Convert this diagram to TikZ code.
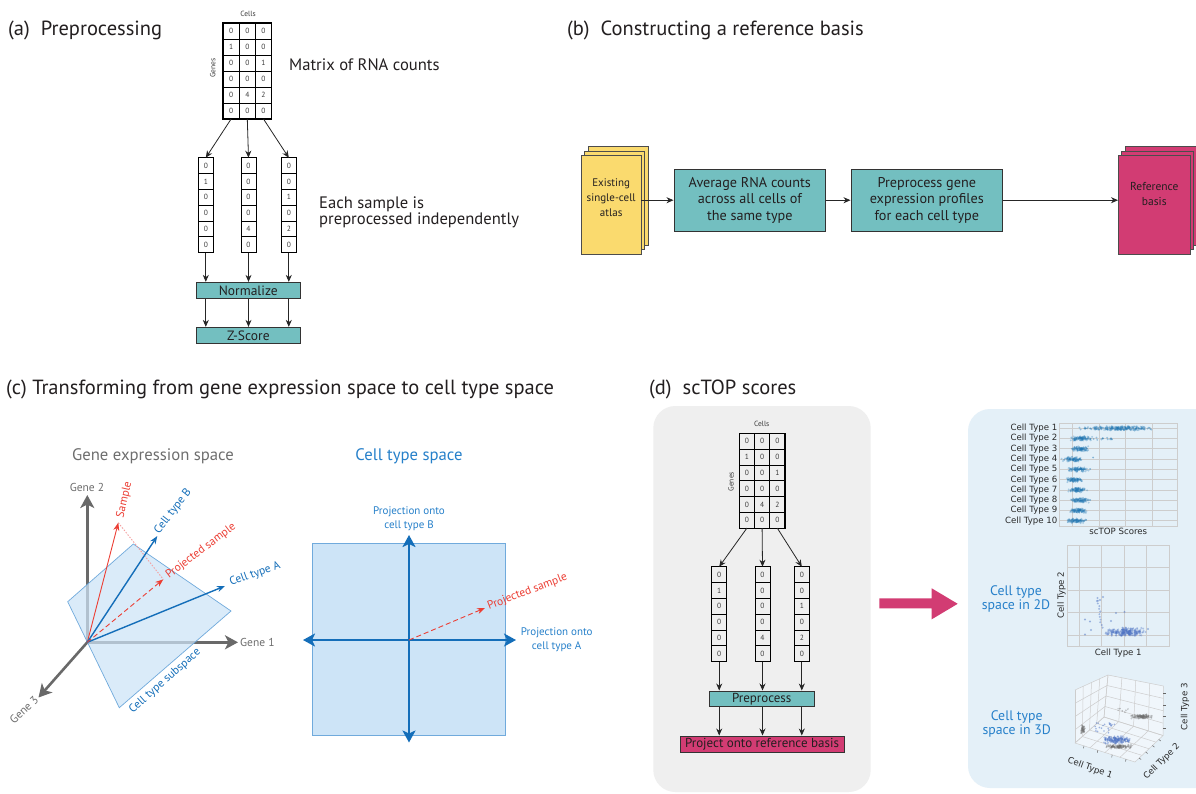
\documentclass[tikz,border=0pt]{standalone}
\usepackage{fontspec}
\setmainfont{PT Sans}
\newfontfamily\plotfont{DejaVu Sans}
\usetikzlibrary{arrows.meta,calc}
\definecolor{tealc}{RGB}{115,191,192}
\definecolor{pinkc}{RGB}{210,60,115}
\definecolor{yelc}{RGB}{250,218,110}
\definecolor{redc}{RGB}{236,62,52}
\definecolor{redl}{RGB}{244,160,160}
\definecolor{bluev}{RGB}{20,110,185}
\definecolor{bluet}{RGB}{38,128,202}
\definecolor{planef}{RGB}{205,228,247}
\definecolor{planed}{RGB}{112,170,220}
\definecolor{axgray}{RGB}{105,105,105}
\definecolor{labgray}{RGB}{110,110,110}
\definecolor{panelgray}{RGB}{239,239,239}
\definecolor{panelblue}{RGB}{228,240,248}
\definecolor{dotblue}{RGB}{31,119,180}
\definecolor{dotblue2}{RGB}{76,114,196}
\definecolor{dotgray}{RGB}{110,110,110}
\definecolor{gridc}{RGB}{205,205,205}
\definecolor{txt}{RGB}{35,31,32}
\definecolor{numc}{RGB}{60,60,60}
\definecolor{plottxt}{RGB}{40,40,40}

\tikzset{
  cellnum/.style={inner sep=0pt, font=\fontsize{7.5}{8}\selectfont, text=numc},
  cellline/.style={draw=black, line width=0.8pt},
  tealbox/.style={draw=black!80, line width=0.9pt, fill=tealc, inner sep=0pt, text=txt},
  arr/.style={-{Stealth[length=7pt,width=6pt]}, line width=0.8pt, draw=black!85},
  sheet/.style={draw=black!70, line width=0.6pt},
  titlelab/.style={font=\fontsize{20.5}{23}\selectfont, inner sep=0pt, anchor=west, text=txt},
  bigtext/.style={font=\fontsize{16.6}{16.6}\selectfont, inner sep=0pt, text=txt},
  smalllab/.style={font=\fontsize{7.5}{8}\selectfont, inner sep=0pt, text=numc},
  axisarr/.style={draw=axgray, line width=2.6pt, -{Stealth[length=13pt,width=14pt,inset=3.5pt]}},
  baxis/.style={draw=bluev, line width=2.2pt, {Stealth[length=12pt,width=13pt,inset=3pt]}-{Stealth[length=12pt,width=13pt,inset=3pt]}},
  vecarr/.style={-{Stealth[length=8pt,width=6pt]}},
  veclab/.style={font=\fontsize{11.5}{12}\selectfont, inner sep=0pt},
  plotlab/.style={font=\plotfont\fontsize{8.6}{9}\selectfont, inner sep=0pt, text=plottxt},
  gridl/.style={draw=gridc, line width=0.7pt}
}

% name, x0, y0, cell width, cell height, rows
\newcommand{\mygrid}[6]{%
  \foreach \row [count=\ri] in {#6} {%
    \foreach \v [count=\ci] in \row {%
      \draw[cellline] ({#2+(\ci-1)*#4},{#3+(\ri-1)*#5}) rectangle ++(#4,#5);
      \node[cellnum] (#1-\ri-\ci) at ({#2+(\ci-0.5)*#4},{#3+(\ri-0.5)*#5}) {\v};
      \coordinate (#1-t-\ci) at ({#2+(\ci-0.5)*#4},#3);
      \coordinate (#1-b-\ci) at ({#2+(\ci-0.5)*#4},{#3+6*#5});
    }%
  }%
}
\newcommand{\cloud}[8]{%
  \foreach \i in {1,...,#1}{%
    \pgfmathsetmacro{\px}{#2+#3*(rand+rand)/2}%
    \pgfmathsetmacro{\py}{#4+#5*(rand+rand)/2}%
    \fill[#6, opacity=#7] (\px,\py) circle (#8pt);
  }%
}
\newcommand{\ucloud}[8]{%
  \foreach \i in {1,...,#1}{%
    \pgfmathsetmacro{\px}{#2+#3*rand}%
    \pgfmathsetmacro{\py}{#4+#5*rand}%
    \fill[#6, opacity=#7] (\px,\py) circle (#8pt);
  }%
}

\begin{document}
\begin{tikzpicture}[x=1pt,y=-1pt]
\pgfmathsetseed{4242}
\useasboundingbox (0,0) rectangle (1196,793);
\fill[white] (0,0) rectangle (1196,793);

% ---------------- titles
\node[titlelab] (ta) at (8,30) {(a)\ \ Preprocessing};
\node[titlelab] (tb) at (567,30) {(b)\ \ Constructing a reference basis};
\node[titlelab] (tc) at (6,389.5) {(c) Transforming from gene expression space to cell type space};
\node[titlelab] (td) at (649,389.5) {(d)\ \ scTOP scores};

% ---------------- panel (a)
\node[smalllab] (cellsa) at (248,14) {Cells};
\mygrid{ma}{223}{23}{16.2}{16}{{0,0,0},{1,0,0},{0,0,1},{0,0,0},{0,4,2},{0,0,0}}
\draw[black, line width=1.1pt] (223,23) rectangle (271.6,119);
\node[smalllab, rotate=90] (genesa) at (212.7,68) {Genes};
\node[bigtext, anchor=west] (mrna) at (289,65) {Matrix of RNA counts};

\mygrid{ca1}{198.3}{157.7}{15}{15.8}{{0},{1},{0},{0},{0},{0}}
\mygrid{ca2}{241}{157.7}{15}{15.8}{{0},{0},{0},{0},{4},{0}}
\mygrid{ca3}{281.3}{157.7}{15}{15.8}{{0},{0},{1},{0},{2},{0}}
\node[bigtext, anchor=west, align=left] (eachs) at (319,212.5) {Each sample is\\preprocessed independently};

\node[tealbox, minimum width=104.7pt, minimum height=16pt, font=\fontsize{13.5}{13.5}\selectfont] (norm) at (248.3,290.3) {Normalize};
\node[tealbox, minimum width=104.7pt, minimum height=16pt, font=\fontsize{13.5}{13.5}\selectfont] (zsc) at (248.3,335.3) {Z-Score};

\draw[arr] (ma-b-1) -- (ca1-t-1);
\draw[arr] (ma-b-2) -- (ca2-t-1);
\draw[arr] (ma-b-3) -- (ca3-t-1);
\foreach \k in {1,2,3}{
  \draw[arr] (ca\k-b-1) -- (ca\k-b-1 |- norm.north);
  \draw[arr] (ca\k-b-1 |- norm.south) -- (ca\k-b-1 |- zsc.north);
}

% ---------------- panel (b)
\filldraw[fill=yelc, sheet] (588.7,146.7) rectangle (648,245);
\filldraw[fill=yelc, sheet] (584.7,151.2) rectangle (644,249.5);
\filldraw[fill=yelc, sheet] (581.7,155.7) rectangle (641,254);
\coordinate (atlasE) at (641,200.2);
\node[font=\fontsize{11}{15}\selectfont, align=center, text=txt, inner sep=0pt] (atlastxt) at (611.2,197.3) {Existing\\single-cell\\atlas};

\node[tealbox, minimum width=151.7pt, minimum height=61.7pt, align=center, font=\fontsize{14.2}{16.3}\selectfont] (box1) at (749.8,200.2) {Average RNA counts\\across all cells of\\the same type};
\node[tealbox, minimum width=151.7pt, minimum height=61.7pt, align=center, font=\fontsize{14.2}{16.3}\selectfont] (box2) at (926.8,200.2) {Preprocess gene\\expression profiles\\for each cell type};

\filldraw[fill=pinkc, sheet] (1125,146.7) rectangle (1197.7,245);
\filldraw[fill=pinkc, sheet] (1121,151.2) rectangle (1193.7,249.5);
\filldraw[fill=pinkc, sheet] (1118,155.7) rectangle (1190.7,254);
\coordinate (refW) at (1118,200.2);
\node[font=\fontsize{11.5}{15}\selectfont, align=center, text=txt, inner sep=0pt] (reftxt) at (1154.3,194.2) {Reference\\basis};

\draw[arr] (atlasE) -- (box1.west);
\draw[arr] (box1.east) -- (box2.west);
\draw[arr] (box2.east) -- (refW);

% ---------------- panel (c) left
\node[font=\fontsize{16.7}{16.7}\selectfont, text=labgray] (ges) at (153,456.7) {Gene expression space};
\coordinate (O) at (87.3,642.3);
\coordinate (G2) at (87.3,495);
\coordinate (G1) at (238,642.3);
\coordinate (G3) at (38.5,697.5);
\draw[axisarr] (O) -- (G2);
\draw[axisarr] (O) -- (G1);
\draw[axisarr] (O) -- (G3);
\filldraw[fill=planef, fill opacity=0.72, draw=planed, line width=0.7pt] (67.7,601.7) -- (133.3,544) -- (231,611) -- (119.3,707.7) -- cycle;

\coordinate (S) at (118.3,522.7);
\coordinate (P) at (163.3,579.3);
\coordinate (CB) at (157.3,536);
\coordinate (CA) at (225,586);
\draw[redl, line width=0.9pt, dash pattern=on 1.5pt off 1.5pt] (S) -- (P);
\draw[redc, line width=0.9pt, vecarr] (O) -- (S);
\draw[bluev, line width=1.4pt, vecarr] (O) -- (CB);
\draw[bluev, line width=1.4pt, vecarr] (O) -- (CA);
\draw[redc, line width=0.9pt, dash pattern=on 5pt off 3pt, vecarr] (O) -- (P);

\node[veclab, text=labgray] (g2l) at (87,487) {Gene 2};
\node[veclab, text=labgray, anchor=west] (g1l) at (240,642.5) {Gene 1};
\node[veclab, text=labgray, rotate=43] (g3l) at (24,710) {Gene 3};
\node[veclab, text=redc, rotate=77] (sl) at (124.5,500) {Sample};
\node[veclab, text=bluev, rotate=52] (cbl) at (173,511.5) {Cell type B};
\node[veclab, text=redc, rotate=37] (psl) at (201,551) {Projected sample};
\node[veclab, text=bluev, rotate=20] (cal) at (255,574) {Cell type A};
\node[veclab, text=bluev, rotate=41.5] (subl) at (165,681) {Cell type subspace};

% ---------------- panel (c) right
\node[font=\fontsize{16.7}{16.7}\selectfont, text=bluet] (cts) at (409,456.7) {Cell type space};
\filldraw[fill=planef, draw=planed, line width=0.8pt] (312.7,543.3) rectangle (505.7,735.3);
\coordinate (O2) at (409,640);
\coordinate (HL) at (303,640);
\coordinate (HR) at (516,640);
\coordinate (VT) at (409,535);
\coordinate (VB) at (409,742.5);
\coordinate (PS2) at (485,608);
\draw[baxis] (HL) -- (HR);
\draw[baxis] (VT) -- (VB);
\draw[redc, line width=0.9pt, dash pattern=on 5pt off 3pt, vecarr] (O2) -- (PS2);
\node[veclab, text=redc, rotate=21] (ps2l) at (527.5,592) {Projected sample};
\node[font=\fontsize{11}{14}\selectfont, text=bluet, align=center] (pb) at (409,518.7) {Projection onto\\cell type B};
\node[font=\fontsize{11}{14}\selectfont, text=bluet, align=center] (pa) at (556.7,639.5) {Projection onto\\cell type A};

% ---------------- panel (d)
\fill[panelgray, rounded corners=22pt] (653.3,406) rectangle (870.7,792);
\fill[panelblue, rounded corners=22pt] (968,409) rectangle (1225,788);

\node[smalllab] (cellsd) at (761.7,424) {Cells};
\mygrid{md}{739.3}{433.3}{15.2}{15.8}{{0,0,0},{1,0,0},{0,0,1},{0,0,0},{0,4,2},{0,0,0}}
\draw[black, line width=1.1pt] (739.3,433.3) rectangle (784.9,528.1);
\node[smalllab, rotate=90] (genesd) at (731,481.7) {Genes};
\mygrid{cd1}{711.7}{566.7}{15}{15.8}{{0},{1},{0},{0},{0},{0}}
\mygrid{cd2}{755}{566.7}{15}{15.8}{{0},{0},{0},{0},{4},{0}}
\mygrid{cd3}{794.3}{566.7}{15}{15.8}{{0},{0},{1},{0},{2},{0}}
\node[tealbox, minimum width=104.7pt, minimum height=15.7pt, font=\fontsize{13}{13}\selectfont] (prep) at (761.7,698.8) {Preprocess};
\node[draw=black!80, line width=0.9pt, fill=pinkc, inner sep=0pt, minimum width=164pt, minimum height=16.7pt, font=\fontsize{13}{13}\selectfont, text=txt] (proj) at (762,744.3) {Project onto reference basis};
\draw[arr] (md-b-1) -- (cd1-t-1);
\draw[arr] (md-b-2) -- (cd2-t-1);
\draw[arr] (md-b-3) -- (cd3-t-1);
\foreach \k in {1,2,3}{
  \draw[arr] (cd\k-b-1) -- (cd\k-b-1 |- prep.north);
  \draw[arr] (cd\k-b-1 |- prep.south) -- (cd\k-b-1 |- proj.north);
}

% big pink arrow
\fill[pinkc] (879.3,598.3) -- (931.7,598.3) -- (931.7,588.3) -- (957.7,603.8) -- (931.7,619.3) -- (931.7,608.3) -- (879.3,608.3) -- cycle;

% ---- strip plot
\draw[gridl] (1059.3,423.3) rectangle (1177.3,526);
\foreach \r in {0,...,9} \draw[gridl] (1059.3,{428.3+\r*10.27}) -- (1177.3,{428.3+\r*10.27});
\foreach \xg in {1072.3,1099,1125.7,1152} \draw[gridl] (\xg,423.3) -- (\xg,526);
\foreach \r in {1,...,10} \node[plotlab, anchor=east] (st\r) at (1057.5,{428.3+(\r-1)*10.27}) {Cell Type \r};
\node[plotlab] (stx) at (1118.3,531.5) {scTOP Scores};
\ucloud{160}{1119}{26}{428.3}{1.8}{dotblue}{0.3}{1.05}
\cloud{80}{1120}{22}{428.3}{2.6}{dotblue}{0.3}{1.05}
\ucloud{14}{1088}{9}{428.3}{1.3}{dotblue}{0.4}{1}
\ucloud{5}{1150}{3}{428.3}{1.3}{dotblue}{0.4}{1}
\cloud{110}{1081}{12}{438.6}{2.6}{dotblue}{0.3}{1.05}
\ucloud{14}{1103}{14}{438.6}{1.3}{dotblue}{0.4}{1}
\cloud{100}{1080}{10}{448.8}{2.6}{dotblue}{0.3}{1.05}
\cloud{100}{1073}{12}{459.1}{2.6}{dotblue}{0.3}{1.05}
\fill[dotblue, opacity=0.5] (1093,457.5) circle (1pt);
\cloud{100}{1078}{12}{469.4}{2.6}{dotblue}{0.3}{1.05}
\fill[dotblue, opacity=0.5] (1090,469) circle (1pt);
\cloud{90}{1074}{9}{479.7}{2.6}{dotblue}{0.3}{1.05}
\cloud{100}{1078}{10}{489.9}{2.6}{dotblue}{0.3}{1.05}
\cloud{100}{1080}{10}{500.2}{2.6}{dotblue}{0.3}{1.05}
\fill[dotblue, opacity=0.5] (1090,500) circle (1pt);
\cloud{100}{1078}{10}{510.5}{2.6}{dotblue}{0.3}{1.05}
\cloud{100}{1076}{11}{520.7}{2.6}{dotblue}{0.3}{1.05}
\fill[dotblue, opacity=0.5] (1086,520) circle (1pt);

% ---- 2D scatter
\draw[gridl] (1067.7,545) rectangle (1169,646.7);
\foreach \xg in {1079.3,1101.7,1124.3,1146.7} \draw[gridl] (\xg,545) -- (\xg,646.7);
\foreach \yg in {567.7,590.7,612.7,635.7} \draw[gridl] (1067.7,\yg) -- (1169,\yg);
\node[plotlab] (sx) at (1118.3,653) {Cell Type 1};
\node[plotlab, rotate=90] (sy) at (1061.5,595) {Cell Type 2};
\node[font=\fontsize{13.8}{14.5}\selectfont, text=bluet, align=center] (l2d) at (1016,598.8) {Cell type\\space in 2D};
\cloud{240}{1125}{22}{632}{5}{dotblue2}{0.35}{1.1}
\foreach \t in {0,0.09,...,1}{\fill[dotblue2, opacity=0.45] ({1098+4*\t+rand},{598+30*\t}) circle (1.1pt);}
\foreach \q in {(1085,619.5),(1090,621.5),(1091,630),(1085,634.5),(1116,613),(1124.5,612),(1103,597),(1100,600),(1097,601),(1148,629),(1111,621)}
  \fill[dotblue2, opacity=0.5] \q circle (1.1pt);

% ---- 3D scatter
\coordinate (L) at (1075,743);
\coordinate (F) at (1135,762);
\coordinate (R) at (1163,735.5);
\coordinate (B) at (1104,717);
\coordinate (LT) at (1075,690);
\coordinate (BT) at (1108,675);
\coordinate (RT) at (1163.5,686);
\fill[white, opacity=0.45] (L) -- (B) -- (BT) -- (LT) -- cycle;
\fill[white, opacity=0.45] (B) -- (R) -- (RT) -- (BT) -- cycle;
\fill[white, opacity=0.45] (L) -- (F) -- (R) -- (B) -- cycle;
\foreach \t in {0,0.25,0.5,0.75,1}{
  \draw[gridl, line width=0.5pt] ($(L)!\t!(B)$) -- ($(LT)!\t!(BT)$);
  \draw[gridl, line width=0.5pt] ($(L)!\t!(LT)$) -- ($(B)!\t!(BT)$);
  \draw[gridl, line width=0.5pt] ($(B)!\t!(R)$) -- ($(BT)!\t!(RT)$);
  \draw[gridl, line width=0.5pt] ($(B)!\t!(BT)$) -- ($(R)!\t!(RT)$);
  \draw[gridl, line width=0.5pt] ($(L)!\t!(F)$) -- ($(B)!\t!(R)$);
  \draw[gridl, line width=0.5pt] ($(L)!\t!(B)$) -- ($(F)!\t!(R)$);
}
\foreach \t in {0.15,0.38,0.62,0.85}{
  \draw[black!60, line width=0.5pt] ($(R)!\t!(RT)$) -- ++(2.5,0);
  \draw[black!60, line width=0.5pt] ($(L)!\t!(F)$) -- ++(-0.5,2.5);
  \draw[black!60, line width=0.5pt] ($(F)!\t!(R)$) -- ++(2,1.5);
}
\cloud{40}{1083}{2.5}{729}{5}{dotgray}{0.4}{1}
\cloud{130}{1142}{12}{716.5}{2.5}{dotgray}{0.3}{1}
\ucloud{12}{1123}{6}{710.5}{2}{dotgray}{0.3}{0.8}
\cloud{140}{1119}{14}{746.5}{2.5}{dotgray}{0.3}{1}
\ucloud{22}{1103}{13}{728}{5}{dotblue2}{0.5}{0.9}
\cloud{170}{1117}{14}{740}{4}{dotblue2}{0.4}{1}
\node[plotlab, rotate=-20] (x3) at (1090,768.3) {Cell Type 1};
\node[plotlab, rotate=45] (y3) at (1161.7,761.7) {Cell Type 2};
\node[plotlab, rotate=90] (z3) at (1185,706.7) {Cell Type 3};
\node[font=\fontsize{13.8}{14.5}\selectfont, text=bluet, align=center] (l3d) at (1016.7,724.2) {Cell type\\space in 3D};
\end{tikzpicture}
\end{document}
